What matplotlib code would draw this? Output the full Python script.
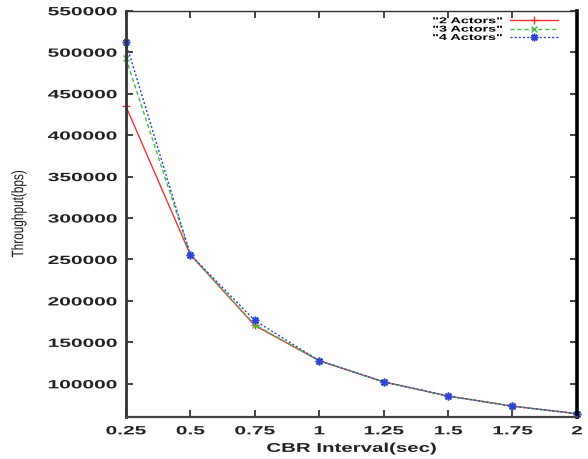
import numpy as np
import matplotlib
matplotlib.use("Agg")
import matplotlib.pyplot as plt
from matplotlib.patheffects import AbstractPathEffect
from matplotlib.transforms import Affine2D

# CBR interval (sec) and throughput (bps) per number of actors
intervals = [0.25, 0.5, 0.75, 1.0, 1.25, 1.5, 1.75, 2.0]
actors2 = [435000, 256000, 170500, 128000, 102400, 85300, 73100, 64000]
actors3 = [493000, 256000, 171500, 128000, 102400, 85300, 73100, 64000]
actors4 = [512000, 256000, 176500, 128000, 102400, 85300, 73100, 64000]

xticks = [0.25, 0.5, 0.75, 1, 1.25, 1.5, 1.75, 2]
xtick_labels = ["0.25", "0.5", "0.75", "1", "1.25", "1.5", "1.75", "2"]
yticks = list(range(100000, 550001, 50000))


class Stretch(AbstractPathEffect):
    """Scale text glyphs, keeping the aligned edge in place."""
    def __init__(self, sx, align="left", sy=1.0):
        super().__init__()
        self.sx = sx
        self.sy = sy
        self.align = align

    def draw_path(self, renderer, gc, tpath, affine, rgbFace=None):
        verts = tpath.vertices
        w = verts[:, 0].max() if len(verts) else 0
        if self.align == "right":
            shift = -(self.sx - 1) * w
        elif self.align == "center":
            shift = -(self.sx - 1) * w / 2
        else:
            shift = 0
        tr = Affine2D().scale(self.sx, self.sy).translate(shift, 0) + affine
        renderer.draw_path(gc, tpath, tr, rgbFace)


plt.rcParams['font.family'] = ['Liberation Sans', 'DejaVu Sans']

fig = plt.figure(figsize=(5.88, 4.59), dpi=100)
ax = fig.add_axes([0.214, 0.0915, 0.767, 0.885])

ax.plot(intervals, actors2, color="#f03434", lw=1.0, ls="-",
        marker="+", ms=6, mew=1.0, label='"2 Actors"', clip_on=False)
ax.plot(intervals, actors3, color="#3ec23e", lw=1.0, ls=(0, (3, 2)),
        marker="x", ms=4.5, mew=1.0, label='"3 Actors"', clip_on=False)
ax.plot(intervals, actors4, color="#2f45d8", lw=1.0, ls=(0, (1.5, 1.5)),
        marker=(8, 2, 0), ms=5.5, mew=1.1, label='"4 Actors"', clip_on=False)

ax.set_xlim(0.25, 2)
ax.set_ylim(60000, 550000)
ax.set_xticks(xticks)
ax.set_xticklabels(xtick_labels)
ax.set_yticks(yticks)
ax.set_yticklabels([str(v) for v in yticks])

ax.tick_params(direction="in", length=5, width=1.2, top=True, right=True,
               labelsize=8.6, pad=6, colors="#222222")
for lbl in ax.get_xticklabels():
    lbl.set_fontweight("bold")
    lbl.set_path_effects([Stretch(1.75, "center")])
for lbl in ax.get_yticklabels():
    lbl.set_fontweight("bold")
    lbl.set_path_effects([Stretch(1.75, "right")])

ax.spines["left"].set_linewidth(2.0)
ax.spines["left"].set_color("#333333")
ax.spines["bottom"].set_linewidth(1.6)
ax.spines["bottom"].set_color("#444444")
ax.spines["right"].set_linewidth(2.6)
ax.spines["right"].set_color("#000000")
ax.spines["top"].set_linewidth(1.0)
ax.spines["top"].set_color("#333333")

xl = ax.set_xlabel("CBR Interval(sec)", fontsize=9.2, fontweight="bold",
                   labelpad=4, color="#222222")
xl.set_path_effects([Stretch(1.6, "center")])
yl = ax.set_ylabel("Throughput(bps)", fontsize=8.5, color="#1a1a1a",
                   fontweight="medium")
yl.set_path_effects([Stretch(1.0, "left", sy=1.4)])
ax.yaxis.set_label_coords(-0.221, 0.5)

leg = ax.legend(loc="upper right", bbox_to_anchor=(0.958, 0.984),
                frameon=False, fontsize=6.1, markerfirst=False,
                handlelength=5.6, handletextpad=0.9, labelspacing=0.05,
                borderpad=0, borderaxespad=0)
for txt in leg.get_texts():
    txt.set_fontweight("bold")
    txt.set_path_effects([Stretch(1.7, "right")])

fig.savefig("out.png", dpi=100)
